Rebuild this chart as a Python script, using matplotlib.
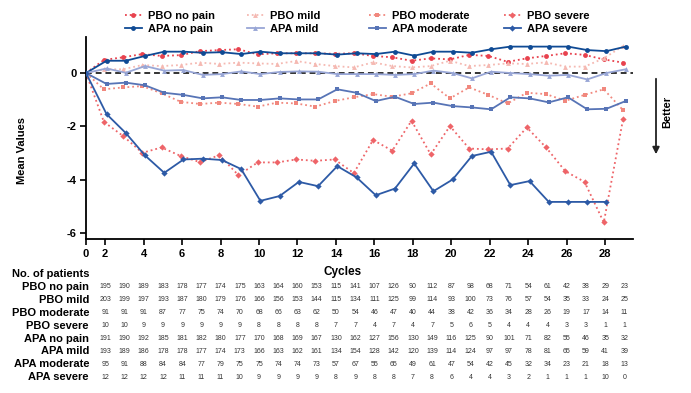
import numpy as np
import matplotlib.pyplot as plt
from matplotlib.transforms import blended_transform_factory

plt.rcParams['font.family'] = ['Liberation Sans', 'DejaVu Sans']
plt.rcParams['axes.unicode_minus'] = False

# ---- data ----
cycles = list(range(2, 30))

pbo_no_pain = [0.49, 0.59, 0.71, 0.64, 0.67, 0.82, 0.86, 0.89, 0.70, 0.74, 0.74, 0.74, 0.72, 0.74,
               0.64, 0.59, 0.46, 0.55, 0.51, 0.68, 0.64, 0.42, 0.55, 0.64, 0.74, 0.68, 0.51, 0.39]
pbo_mild = [0.14, 0.14, 0.30, 0.26, 0.30, 0.39, 0.34, 0.39, 0.36, 0.34, 0.45, 0.34, 0.26, 0.21,
            0.40, 0.26, 0.21, 0.26, 0.46, 0.26, 0.30, 0.36, 0.34, 0.40, 0.24, 0.24, 0.55, 1.01]
pbo_moderate = [-0.61, -0.54, -0.49, -0.76, -1.08, -1.16, -1.11, -1.16, -1.26, -1.11, -1.14, -1.26, -1.05, -0.91,
                -0.79, -0.89, -0.76, -0.39, -0.95, -0.54, -0.82, -1.14, -0.74, -0.79, -1.04, -0.82, -0.61, -1.39]
pbo_severe = [-1.83, -2.36, -2.99, -2.79, -3.11, -3.34, -3.08, -3.83, -3.35, -3.35, -3.24, -3.29, -3.24, -3.75,
              -2.51, -2.91, -1.79, -3.05, -1.99, -2.83, -2.86, -2.83, -2.04, -2.79, -3.68, -4.08, -5.60, -1.74]
apa_no_pain = [0.46, 0.46, 0.64, 0.80, 0.80, 0.76, 0.78, 0.71, 0.80, 0.74, 0.74, 0.74, 0.69, 0.74,
               0.71, 0.80, 0.65, 0.80, 0.80, 0.76, 0.89, 0.99, 0.99, 0.99, 0.99, 0.86, 0.82, 0.99]
apa_mild = [0.17, 0.01, 0.26, 0.09, 0.11, -0.07, -0.04, 0.06, -0.04, 0.04, 0.06, 0.05, -0.04, -0.04,
            -0.04, -0.07, -0.04, 0.09, 0.00, -0.20, 0.05, 0.00, -0.04, -0.10, -0.07, -0.24, 0.00, 0.14]
apa_moderate = [-0.41, -0.36, -0.46, -0.74, -0.82, -0.95, -0.91, -1.01, -1.01, -0.95, -0.99, -0.99, -0.61, -0.74,
                -1.05, -0.89, -1.16, -1.11, -1.24, -1.29, -1.36, -0.91, -0.95, -1.10, -0.91, -1.36, -1.34, -1.05]
apa_severe = [-1.54, -2.25, -3.09, -3.74, -3.24, -3.21, -3.26, -3.60, -4.79, -4.61, -4.08, -4.24, -3.49, -3.91,
              -4.58, -4.33, -3.39, -4.43, -3.99, -3.11, -2.95, -4.20, -4.05, -4.83, -4.83, -4.83, -4.83, np.nan]

# number of patients per cycle
n_pbo_no_pain = [195, 190, 189, 183, 178, 177, 174, 175, 163, 164, 160, 153, 115, 141,
                 107, 126, 90, 112, 87, 98, 68, 71, 54, 61, 42, 38, 29, 23]
n_pbo_mild = [203, 199, 197, 193, 187, 180, 179, 176, 166, 156, 153, 144, 115, 134,
              111, 125, 99, 114, 93, 100, 73, 76, 57, 54, 35, 33, 24, 25]
n_pbo_moderate = [91, 91, 91, 87, 77, 75, 74, 70, 68, 66, 63, 62, 50, 54,
                  46, 47, 40, 44, 38, 42, 36, 34, 28, 26, 19, 17, 14, 11]
n_pbo_severe = [10, 10, 9, 9, 9, 9, 9, 9, 8, 8, 8, 8, 7, 7,
                4, 7, 4, 7, 5, 6, 5, 4, 4, 4, 3, 3, 1, 1]
n_apa_no_pain = [191, 190, 192, 185, 181, 182, 180, 177, 170, 168, 169, 167, 130, 162,
                 127, 156, 130, 149, 116, 125, 90, 101, 71, 82, 55, 46, 35, 32]
n_apa_mild = [193, 189, 186, 178, 178, 177, 174, 173, 166, 163, 162, 161, 134, 154,
              128, 142, 120, 139, 114, 124, 97, 97, 78, 81, 65, 59, 41, 39]
n_apa_moderate = [95, 91, 88, 84, 84, 77, 79, 75, 75, 74, 74, 73, 57, 67,
                  55, 65, 49, 61, 47, 54, 42, 45, 32, 34, 23, 21, 18, 13]
n_apa_severe = [12, 12, 12, 12, 11, 11, 11, 10, 9, 9, 9, 9, 8, 9,
                8, 8, 7, 8, 6, 4, 4, 3, 2, 1, 1, 1, 10, 0]

series = [
    ('PBO no pain', pbo_no_pain, n_pbo_no_pain, '#e8424e', ':', 'o'),
    ('PBO mild', pbo_mild, n_pbo_mild, '#f5b9b2', ':', '^'),
    ('PBO moderate', pbo_moderate, n_pbo_moderate, '#f1887e', ':', 's'),
    ('PBO severe', pbo_severe, n_pbo_severe, '#ee6468', ':', 'D'),
    ('APA no pain', apa_no_pain, n_apa_no_pain, '#0f4a94', '-', 'o'),
    ('APA mild', apa_mild, n_apa_mild, '#98a6d6', '-', '^'),
    ('APA moderate', apa_moderate, n_apa_moderate, '#5774b6', '-', 's'),
    ('APA severe', apa_severe, n_apa_severe, '#2d5aa6', '-', 'D'),
]

W, H = 691, 393
fig = plt.figure(figsize=(W / 100, H / 100), dpi=100)
ax = fig.add_axes([86 / W, 1 - 239 / H, (633 - 86) / W, (239 - 37) / H])

# baseline
ax.axhline(0, color='#333333', lw=1.4, ls=(0, (3, 2)), zorder=1)

handles = {}
for name, vals, _, color, ls, mk in series:
    off = -0.07 if name.startswith('PBO') else 0.07
    x = [1] + [c + off for c in cycles]
    y = [0] + list(vals)
    ms = 3.5 if mk != 'D' else 3.2
    line, = ax.plot(x, y, color=color, ls=ls, lw=1.3, marker=mk, markersize=ms,
                    markeredgewidth=0, zorder=3 if name.startswith('APA') else 2)
    handles[name] = line

ax.set_xlim(1, 29.45)
ax.set_ylim(-6.22, 1.35)
ax.set_xticks([1] + list(range(2, 29, 2)))
ax.set_xticklabels(['0'] + [str(c) for c in range(2, 29, 2)])
ax.set_yticks([0, -2, -4, -6])
ax.set_yticklabels(['0', '-2', '-4', '-6'])
ax.tick_params(direction='out', length=4, width=1.2, labelsize=8, pad=3)
for lbl in ax.get_xticklabels() + ax.get_yticklabels():
    lbl.set_fontweight('bold')
for side in ['top', 'right']:
    ax.spines[side].set_visible(False)
for side in ['left', 'bottom']:
    ax.spines[side].set_linewidth(1.3)

fig.text(22 / W, 1 - 150 / H, 'Mean Values', rotation=90, ha='center', va='center',
         fontsize=8, fontweight='bold')
fig.text(343 / W, 1 - 272 / H, 'Cycles', ha='center', va='center', fontsize=8.5, fontweight='bold')

# Better arrow
ax.annotate('', xy=(656 / W, 1 - 157 / H), xytext=(656 / W, 1 - 76 / H),
            xycoords='figure fraction', textcoords='figure fraction',
            arrowprops=dict(arrowstyle='-|>', color='#222222', lw=1.3, mutation_scale=10))
fig.text(667 / W, 1 - 112 / H, 'Better', rotation=90, ha='center', va='center',
         fontsize=8, fontweight='bold')

# legend, one column at a time
col_x = [125, 247, 369, 504]
for i, x0 in enumerate(col_x):
    names = [series[i][0], series[i + 4][0]]
    leg = fig.legend([handles[n] for n in names], names, loc='upper left',
                     bbox_to_anchor=(x0 / W, 1 - 11 / H), frameon=False,
                     borderpad=0, borderaxespad=0, handlelength=1.5,
                     handletextpad=0.6, labelspacing=0.25,
                     prop={'weight': 'bold', 'size': 8})

# patient table
fig.text(12 / W, 1 - 274 / H, 'No. of patients', ha='left', va='center',
         fontsize=8, fontweight='bold')
trans = blended_transform_factory(ax.transData, fig.transFigure)
for i, (name, _, counts, *_rest) in enumerate(series):
    yrow = 1 - (287 + 12.9 * i) / H
    fig.text(89 / W, yrow, name, ha='right', va='center', fontsize=8, fontweight='bold')
    for c, n in zip(cycles, counts):
        ax.text(c, yrow, str(n), transform=trans, ha='center', va='center',
                fontsize=5, color='#333333', clip_on=False)

fig.savefig('out.png', dpi=100)
